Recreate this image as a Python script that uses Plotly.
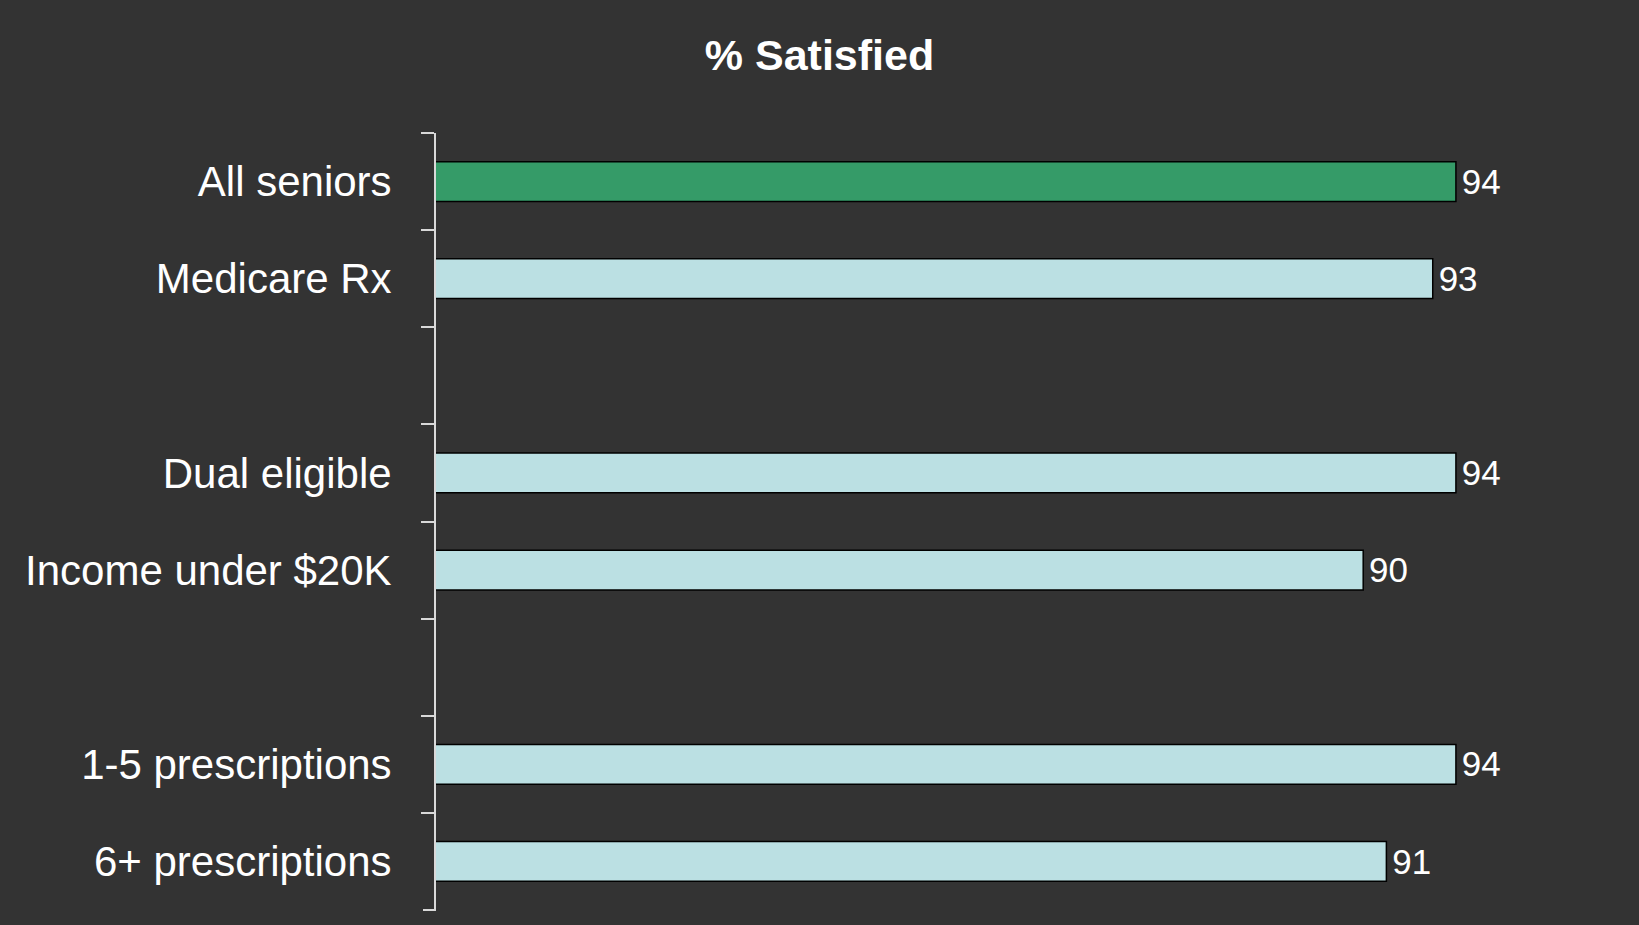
import plotly.graph_objects as go

categories = ["All seniors", "Medicare Rx", " ", "Dual eligible", "Income under $20K", "  ",
              "1-5 prescriptions", "6+ prescriptions"]
values = [94, 93, None, 94, 90, None, 94, 91]
colors = ["#359B68", "#BBE0E3", "#BBE0E3", "#BBE0E3", "#BBE0E3", "#BBE0E3", "#BBE0E3", "#BBE0E3"]
title_text = "% Satisfied"

fig = go.Figure()
fig.add_trace(go.Bar(
    y=categories, x=values, orientation="h",
    marker=dict(color=colors, line=dict(color="#000000", width=1.5)),
    width=0.41,
    text=[("" if v is None else "\u200a" + str(v)) for v in values],
    textposition="outside",
    textfont=dict(family="Liberation Sans, Arial", size=36, color="#FFFFFF"),
    cliponaxis=False,
    hoverinfo="skip",
))

# closing tick at the bottom boundary of the category axis
fig.add_shape(type="line", xref="x domain", yref="y domain",
              x0=-13 / 1159, x1=0, y0=0, y1=0,
              line=dict(color="#D9D9D9", width=2))

fig.update_layout(
    width=1639, height=925,
    paper_bgcolor="#333333", plot_bgcolor="#333333",
    margin=dict(l=436, r=44, t=133, b=15),
    showlegend=False,
    title=dict(text="<b>" + title_text + "</b>", x=0.5, xanchor="center",
               y=1 - 55 / 925, yanchor="middle", yref="container",
               font=dict(family="Liberation Sans, Arial", size=43, color="#FFFFFF")),
    xaxis=dict(range=[50, 100], visible=False, fixedrange=True),
    yaxis=dict(
        type="category", categoryorder="array", categoryarray=categories,
        autorange="reversed", fixedrange=True,
        tickson="boundaries", ticks="outside", ticklen=13, tickwidth=2, tickcolor="#D9D9D9",
        showline=True, linecolor="#D9D9D9", linewidth=2,
        showgrid=False, zeroline=False,
        tickfont=dict(family="Liberation Sans, Arial", size=42, color="#FFFFFF"),
        ticklabelstandoff=34,
    ),
)

fig.write_html("out.html", config={"displayModeBar": False},
               post_script="document.body.style.margin='0';document.body.style.overflow='hidden';")
